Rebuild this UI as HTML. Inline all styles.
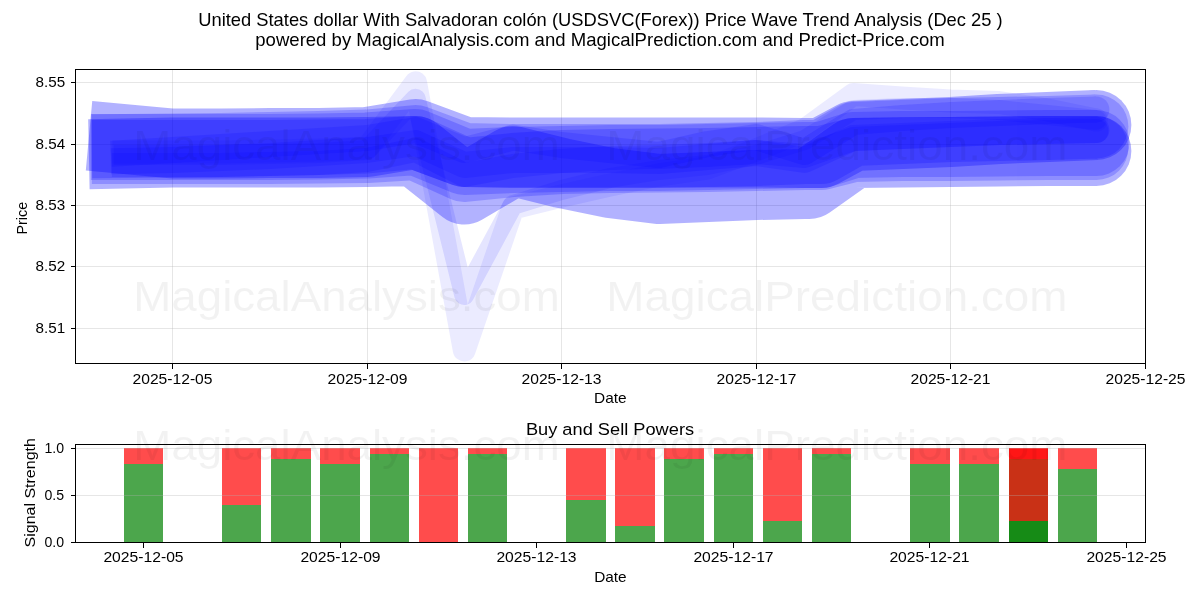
<!DOCTYPE html><html><head><meta charset="utf-8"><style>html,body{margin:0;padding:0;background:#fff;width:1200px;height:600px;overflow:hidden}svg{display:block}text{font-family:"Liberation Sans", sans-serif;fill:#000}svg{will-change:transform}</style></head><body>
<svg width="1200" height="600" viewBox="0 0 1200 600">
<rect x="0" y="0" width="1200" height="600" fill="#fff"/>
<defs><clipPath id="cm"><rect x="75.20" y="69.40" width="1070.10" height="293.95"/></clipPath><clipPath id="cb"><rect x="75.20" y="444.20" width="1070.10" height="98.20"/></clipPath></defs>
<text x="600.45" y="25.50" font-size="17.80" text-anchor="middle" textLength="804.50" lengthAdjust="spacingAndGlyphs">United States dollar With Salvadoran col&#243;n (USDSVC(Forex)) Price Wave Trend Analysis (Dec 25 )</text>
<text x="600.05" y="46.30" font-size="17.80" text-anchor="middle" textLength="689.50" lengthAdjust="spacingAndGlyphs">powered by MagicalAnalysis.com and MagicalPrediction.com and Predict-Price.com</text>
<g stroke="#b0b0b0" stroke-opacity="0.32" stroke-width="1" shape-rendering="crispEdges">
<line x1="172.50" y1="69.40" x2="172.50" y2="363.35"/>
<line x1="367.50" y1="69.40" x2="367.50" y2="363.35"/>
<line x1="561.50" y1="69.40" x2="561.50" y2="363.35"/>
<line x1="756.50" y1="69.40" x2="756.50" y2="363.35"/>
<line x1="950.50" y1="69.40" x2="950.50" y2="363.35"/>
<line x1="75.20" y1="82.50" x2="1145.30" y2="82.50"/>
<line x1="75.20" y1="144.50" x2="1145.30" y2="144.50"/>
<line x1="75.20" y1="205.50" x2="1145.30" y2="205.50"/>
<line x1="75.20" y1="266.50" x2="1145.30" y2="266.50"/>
<line x1="75.20" y1="328.50" x2="1145.30" y2="328.50"/>
</g>
<g clip-path="url(#cm)">
<g opacity="0.300"><polyline points="89.02,135.77 123.88,139.00 172.50,143.50 221.12,143.50 269.75,143.00 318.38,143.00 367.00,142.00 415.62,134.00 464.25,152.00 512.88,152.50 561.50,152.50 610.12,152.50 658.75,152.50 707.38,152.50 756.00,152.50 804.62,153.00 821.64,153.00 853.25,136.00 901.88,134.00 950.50,132.00 999.12,129.00 1047.75,127.00 1096.38,125.00" fill="none" stroke="#00f" stroke-width="70.00" stroke-linejoin="round" stroke-linecap="butt"/><circle cx="1096.38" cy="125.00" r="35.00" fill="#00f"/></g>
<g opacity="0.300"><polyline points="88.88,154.22 123.88,153.50 172.50,152.50 221.12,152.50 269.75,152.50 318.38,152.50 367.00,152.00 415.62,151.00 464.25,189.50 512.88,161.00 561.50,173.00 610.12,183.00 658.75,189.00 707.38,187.00 756.00,185.00 804.62,184.00 809.49,184.00 853.25,153.00 901.88,152.50 950.50,152.00 999.12,151.50 1047.75,151.00 1096.38,151.00" fill="none" stroke="#00f" stroke-width="70.00" stroke-linejoin="round" stroke-linecap="butt"/><circle cx="1096.38" cy="151.00" r="35.00" fill="#00f"/></g>
<g opacity="0.200"><polyline points="91.88,146.33 123.88,146.00 172.50,145.50 221.12,145.00 269.75,144.00 318.38,143.00 367.00,141.50 415.62,137.00 464.25,155.00 512.88,156.00 561.50,156.00 610.12,156.00 658.75,156.00 707.38,155.00 756.00,154.00 804.62,152.00 821.64,152.00 853.25,134.00 901.88,132.00 950.50,130.00 999.12,129.00 1047.75,128.00 1096.38,126.50" fill="none" stroke="#00f" stroke-width="64.00" stroke-linejoin="round" stroke-linecap="butt"/><circle cx="1096.38" cy="126.50" r="32.00" fill="#00f"/></g>
<g opacity="0.200"><polyline points="90.88,147.00 123.88,147.00 172.50,147.00 221.12,147.00 269.75,147.00 318.38,146.50 367.00,145.50 415.62,142.00 464.25,162.00 512.88,160.00 561.50,159.00 610.12,158.00 658.75,158.00 707.38,157.00 756.00,156.00 804.62,155.00 821.64,155.00 853.25,145.00 901.88,144.00 950.50,144.00 999.12,143.50 1047.75,143.00 1096.38,143.00" fill="none" stroke="#00f" stroke-width="66.00" stroke-linejoin="round" stroke-linecap="butt"/><circle cx="1096.38" cy="143.00" r="33.00" fill="#00f"/></g>
<g opacity="0.200"><polyline points="91.88,152.00 123.88,152.00 172.50,152.00 221.12,152.00 269.75,152.00 318.38,151.50 367.00,151.00 415.62,148.00 464.25,170.00 512.88,165.00 561.50,162.00 610.12,161.00 658.75,160.50 707.38,160.00 756.00,159.00 804.62,158.00 821.64,158.00 853.25,150.00 901.88,149.00 950.50,149.00 999.12,148.50 1047.75,148.00 1096.38,148.00" fill="none" stroke="#00f" stroke-width="64.00" stroke-linejoin="round" stroke-linecap="butt"/><circle cx="1096.38" cy="148.00" r="32.00" fill="#00f"/></g>
<g opacity="0.150"><polyline points="110.90,153.80 123.88,153.00 172.50,150.00 221.12,147.00 269.75,144.00 318.38,141.00 367.00,138.00 415.62,130.00 464.25,150.00 512.88,137.50 561.50,145.00 610.12,150.00 658.75,155.00 707.38,144.00 756.00,137.00 804.62,152.00 853.25,122.00 901.88,118.00 950.50,115.00 999.12,113.00 1047.75,111.00 1096.38,109.50" fill="none" stroke="#00f" stroke-width="26.00" stroke-linejoin="round" stroke-linecap="butt"/><circle cx="1096.38" cy="109.50" r="13.00" fill="#00f"/></g>
<g opacity="0.150"><polyline points="111.88,165.00 123.88,165.00 172.50,165.00 221.12,165.00 269.75,164.00 318.38,163.00 367.00,160.00 415.62,150.00 464.25,175.00 512.88,166.00 561.50,161.00 610.12,158.00 658.75,157.00 707.38,155.00 756.00,152.00 804.62,156.00 853.25,139.00 901.88,137.00 950.50,135.00 999.12,133.00 1047.75,132.00 1096.38,131.00" fill="none" stroke="#00f" stroke-width="24.00" stroke-linejoin="round" stroke-linecap="butt"/><circle cx="1096.38" cy="131.00" r="12.00" fill="#00f"/></g>
<g opacity="0.150"><polyline points="110.88,161.27 123.88,161.00 172.50,160.00 221.12,158.00 269.75,156.00 318.38,153.00 367.00,150.00 415.62,143.00 464.25,165.00 512.88,160.00 561.50,160.00 610.12,160.00 658.75,161.00 707.38,157.00 756.00,153.00 804.62,160.00 853.25,138.00 901.88,136.00 950.50,134.00 999.12,132.00 1047.75,131.00 1096.38,130.00" fill="none" stroke="#00f" stroke-width="26.00" stroke-linejoin="round" stroke-linecap="butt"/><circle cx="1096.38" cy="130.00" r="13.00" fill="#00f"/></g>
<g opacity="0.080"><polyline points="112.38,152.00 123.88,152.00 172.50,152.00 221.12,152.00 269.75,151.00 318.38,150.00 367.00,148.00 415.62,82.80 464.25,349.90 512.88,208.00 561.50,196.00 610.12,185.00 658.75,175.00 707.38,168.00 756.00,150.00 804.62,130.00 853.25,94.50 901.88,98.00 950.50,101.00 999.12,102.50 1047.75,110.00 1096.38,120.00" fill="none" stroke="#00f" stroke-width="23.00" stroke-linejoin="round" stroke-linecap="butt"/><circle cx="1096.38" cy="120.00" r="11.50" fill="#00f"/></g>
<g opacity="0.100"><polyline points="113.88,155.00 123.88,155.00 172.50,155.00 221.12,155.00 269.75,154.00 318.38,153.00 367.00,150.00 415.62,98.70 464.25,295.00 512.88,205.00 561.50,190.00 610.12,178.00 658.75,170.00 707.38,165.00 756.00,155.00 804.62,140.00 853.25,110.00 901.88,108.00 950.50,108.00 999.12,110.00 1047.75,115.00 1096.38,120.00" fill="none" stroke="#00f" stroke-width="20.00" stroke-linejoin="round" stroke-linecap="butt"/><circle cx="1096.38" cy="120.00" r="10.00" fill="#00f"/></g>
</g>
<g fill="#000" fill-opacity="0.05">
<text x="133.3" y="160.00" font-size="41.67" textLength="426.4" lengthAdjust="spacingAndGlyphs" style="fill:#000">MagicalAnalysis.com</text>
<text x="606.3" y="160.00" font-size="41.67" textLength="461.2" lengthAdjust="spacingAndGlyphs" style="fill:#000">MagicalPrediction.com</text>
</g>
<g fill="#000" fill-opacity="0.05">
<text x="133.3" y="311.30" font-size="41.67" textLength="426.4" lengthAdjust="spacingAndGlyphs" style="fill:#000">MagicalAnalysis.com</text>
<text x="606.3" y="311.30" font-size="41.67" textLength="461.2" lengthAdjust="spacingAndGlyphs" style="fill:#000">MagicalPrediction.com</text>
</g>
<g stroke="#000" stroke-width="1" fill="none" shape-rendering="crispEdges">
<rect x="75.5" y="69.5" width="1070" height="294"/>
<line x1="172.50" y1="363.50" x2="172.50" y2="369.00"/>
<line x1="367.50" y1="363.50" x2="367.50" y2="369.00"/>
<line x1="561.50" y1="363.50" x2="561.50" y2="369.00"/>
<line x1="756.50" y1="363.50" x2="756.50" y2="369.00"/>
<line x1="950.50" y1="363.50" x2="950.50" y2="369.00"/>
<line x1="1145.50" y1="363.50" x2="1145.50" y2="369.00"/>
<line x1="70.50" y1="82.50" x2="75.50" y2="82.50"/>
<line x1="70.50" y1="144.50" x2="75.50" y2="144.50"/>
<line x1="70.50" y1="205.50" x2="75.50" y2="205.50"/>
<line x1="70.50" y1="266.50" x2="75.50" y2="266.50"/>
<line x1="70.50" y1="328.50" x2="75.50" y2="328.50"/>
</g>
<text x="172.50" y="383.90" font-size="14.10" text-anchor="middle" textLength="80.00" lengthAdjust="spacingAndGlyphs">2025-12-05</text>
<text x="367.50" y="383.90" font-size="14.10" text-anchor="middle" textLength="80.00" lengthAdjust="spacingAndGlyphs">2025-12-09</text>
<text x="561.50" y="383.90" font-size="14.10" text-anchor="middle" textLength="80.00" lengthAdjust="spacingAndGlyphs">2025-12-13</text>
<text x="756.50" y="383.90" font-size="14.10" text-anchor="middle" textLength="80.00" lengthAdjust="spacingAndGlyphs">2025-12-17</text>
<text x="950.50" y="383.90" font-size="14.10" text-anchor="middle" textLength="80.00" lengthAdjust="spacingAndGlyphs">2025-12-21</text>
<text x="1145.50" y="383.90" font-size="14.10" text-anchor="middle" textLength="80.00" lengthAdjust="spacingAndGlyphs">2025-12-25</text>
<text x="65.20" y="87.40" font-size="14.10" text-anchor="end" textLength="29.60" lengthAdjust="spacingAndGlyphs">8.55</text>
<text x="65.20" y="149.40" font-size="14.10" text-anchor="end" textLength="29.60" lengthAdjust="spacingAndGlyphs">8.54</text>
<text x="65.20" y="210.40" font-size="14.10" text-anchor="end" textLength="29.60" lengthAdjust="spacingAndGlyphs">8.53</text>
<text x="65.20" y="271.40" font-size="14.10" text-anchor="end" textLength="29.60" lengthAdjust="spacingAndGlyphs">8.52</text>
<text x="65.20" y="333.40" font-size="14.10" text-anchor="end" textLength="29.60" lengthAdjust="spacingAndGlyphs">8.51</text>
<text x="610.35" y="402.80" font-size="14.10" text-anchor="middle" textLength="32.60" lengthAdjust="spacingAndGlyphs">Date</text>
<text x="0.00" y="0.00" font-size="14.10" text-anchor="middle" textLength="32.60" lengthAdjust="spacingAndGlyphs" transform="translate(27.1 218.2) rotate(-90)">Price</text>
<text x="610.00" y="434.70" font-size="17.20" text-anchor="middle" textLength="168.20" lengthAdjust="spacingAndGlyphs">Buy and Sell Powers</text>
<g shape-rendering="crispEdges">
<rect x="123.84" y="464.00" width="39.32" height="78.00" fill="#008000" fill-opacity="0.7"/>
<rect x="222.14" y="504.80" width="39.32" height="37.20" fill="#008000" fill-opacity="0.7"/>
<rect x="271.29" y="459.20" width="39.32" height="82.80" fill="#008000" fill-opacity="0.7"/>
<rect x="320.44" y="464.00" width="39.32" height="78.00" fill="#008000" fill-opacity="0.7"/>
<rect x="369.59" y="453.90" width="39.32" height="88.10" fill="#008000" fill-opacity="0.7"/>
<rect x="467.89" y="453.90" width="39.32" height="88.10" fill="#008000" fill-opacity="0.7"/>
<rect x="566.19" y="500.00" width="39.32" height="42.00" fill="#008000" fill-opacity="0.7"/>
<rect x="615.34" y="525.90" width="39.32" height="16.10" fill="#008000" fill-opacity="0.7"/>
<rect x="664.49" y="459.20" width="39.32" height="82.80" fill="#008000" fill-opacity="0.7"/>
<rect x="713.64" y="453.90" width="39.32" height="88.10" fill="#008000" fill-opacity="0.7"/>
<rect x="762.79" y="520.50" width="39.32" height="21.50" fill="#008000" fill-opacity="0.7"/>
<rect x="811.94" y="453.90" width="39.32" height="88.10" fill="#008000" fill-opacity="0.7"/>
<rect x="910.24" y="464.20" width="39.32" height="77.80" fill="#008000" fill-opacity="0.7"/>
<rect x="959.39" y="464.20" width="39.32" height="77.80" fill="#008000" fill-opacity="0.7"/>
<rect x="1008.54" y="459.25" width="39.32" height="82.75" fill="#008000" fill-opacity="0.7"/>
<rect x="1008.54" y="521.00" width="39.32" height="21.00" fill="#008000" fill-opacity="0.7"/>
<rect x="1057.69" y="469.30" width="39.32" height="72.70" fill="#008000" fill-opacity="0.7"/>
<rect x="123.84" y="448.00" width="39.32" height="16.00" fill="#ff0000" fill-opacity="0.7"/>
<rect x="222.14" y="448.00" width="39.32" height="56.80" fill="#ff0000" fill-opacity="0.7"/>
<rect x="271.29" y="448.00" width="39.32" height="11.20" fill="#ff0000" fill-opacity="0.7"/>
<rect x="320.44" y="448.00" width="39.32" height="16.00" fill="#ff0000" fill-opacity="0.7"/>
<rect x="369.59" y="448.00" width="39.32" height="5.90" fill="#ff0000" fill-opacity="0.7"/>
<rect x="418.74" y="448.00" width="39.32" height="94.00" fill="#ff0000" fill-opacity="0.7"/>
<rect x="467.89" y="448.00" width="39.32" height="5.90" fill="#ff0000" fill-opacity="0.7"/>
<rect x="566.19" y="448.00" width="39.32" height="52.00" fill="#ff0000" fill-opacity="0.7"/>
<rect x="615.34" y="448.00" width="39.32" height="77.90" fill="#ff0000" fill-opacity="0.7"/>
<rect x="664.49" y="448.00" width="39.32" height="11.20" fill="#ff0000" fill-opacity="0.7"/>
<rect x="713.64" y="448.00" width="39.32" height="5.90" fill="#ff0000" fill-opacity="0.7"/>
<rect x="762.79" y="448.00" width="39.32" height="72.50" fill="#ff0000" fill-opacity="0.7"/>
<rect x="811.94" y="448.00" width="39.32" height="5.90" fill="#ff0000" fill-opacity="0.7"/>
<rect x="910.24" y="448.00" width="39.32" height="16.20" fill="#ff0000" fill-opacity="0.7"/>
<rect x="959.39" y="448.00" width="39.32" height="16.20" fill="#ff0000" fill-opacity="0.7"/>
<rect x="1008.54" y="448.00" width="39.32" height="11.25" fill="#ff0000" fill-opacity="0.7"/>
<rect x="1008.54" y="448.00" width="39.32" height="73.00" fill="#ff0000" fill-opacity="0.7"/>
<rect x="1057.69" y="448.00" width="39.32" height="21.30" fill="#ff0000" fill-opacity="0.7"/>
</g>
<g stroke="#b0b0b0" stroke-opacity="0.32" stroke-width="1" shape-rendering="crispEdges">
<line x1="75.20" y1="495.50" x2="1145.30" y2="495.50"/>
<line x1="75.20" y1="448.50" x2="1145.30" y2="448.50"/>
</g>
<g fill="#000" fill-opacity="0.05">
<text x="133.3" y="459.5" font-size="41.67" textLength="426.4" lengthAdjust="spacingAndGlyphs" style="fill:#000">MagicalAnalysis.com</text>
<text x="606.3" y="459.5" font-size="41.67" textLength="461.2" lengthAdjust="spacingAndGlyphs" style="fill:#000">MagicalPrediction.com</text>
</g>
<g stroke="#000" stroke-width="1" fill="none" shape-rendering="crispEdges">
<rect x="75.5" y="444.5" width="1070" height="98"/>
<line x1="143.50" y1="542.50" x2="143.50" y2="548.00"/>
<line x1="340.50" y1="542.50" x2="340.50" y2="548.00"/>
<line x1="536.50" y1="542.50" x2="536.50" y2="548.00"/>
<line x1="733.50" y1="542.50" x2="733.50" y2="548.00"/>
<line x1="929.50" y1="542.50" x2="929.50" y2="548.00"/>
<line x1="1126.50" y1="542.50" x2="1126.50" y2="548.00"/>
<line x1="70.50" y1="542.50" x2="75.50" y2="542.50"/>
<line x1="70.50" y1="495.50" x2="75.50" y2="495.50"/>
<line x1="70.50" y1="448.50" x2="75.50" y2="448.50"/>
</g>
<text x="143.50" y="561.60" font-size="14.10" text-anchor="middle" textLength="80.20" lengthAdjust="spacingAndGlyphs">2025-12-05</text>
<text x="340.50" y="561.60" font-size="14.10" text-anchor="middle" textLength="80.20" lengthAdjust="spacingAndGlyphs">2025-12-09</text>
<text x="536.50" y="561.60" font-size="14.10" text-anchor="middle" textLength="80.20" lengthAdjust="spacingAndGlyphs">2025-12-13</text>
<text x="733.50" y="561.60" font-size="14.10" text-anchor="middle" textLength="80.20" lengthAdjust="spacingAndGlyphs">2025-12-17</text>
<text x="929.50" y="561.60" font-size="14.10" text-anchor="middle" textLength="80.20" lengthAdjust="spacingAndGlyphs">2025-12-21</text>
<text x="1126.50" y="561.60" font-size="14.10" text-anchor="middle" textLength="80.20" lengthAdjust="spacingAndGlyphs">2025-12-25</text>
<text x="64.00" y="547.40" font-size="14.10" text-anchor="end" textLength="19.60" lengthAdjust="spacingAndGlyphs">0.0</text>
<text x="64.00" y="500.40" font-size="14.10" text-anchor="end" textLength="19.60" lengthAdjust="spacingAndGlyphs">0.5</text>
<text x="64.00" y="453.40" font-size="14.10" text-anchor="end" textLength="19.60" lengthAdjust="spacingAndGlyphs">1.0</text>
<text x="610.40" y="581.90" font-size="14.10" text-anchor="middle" textLength="32.50" lengthAdjust="spacingAndGlyphs">Date</text>
<text x="0.00" y="0.00" font-size="14.10" text-anchor="middle" textLength="109.30" lengthAdjust="spacingAndGlyphs" transform="translate(34.5 492.8) rotate(-90)">Signal Strength</text>
</svg></body></html>
